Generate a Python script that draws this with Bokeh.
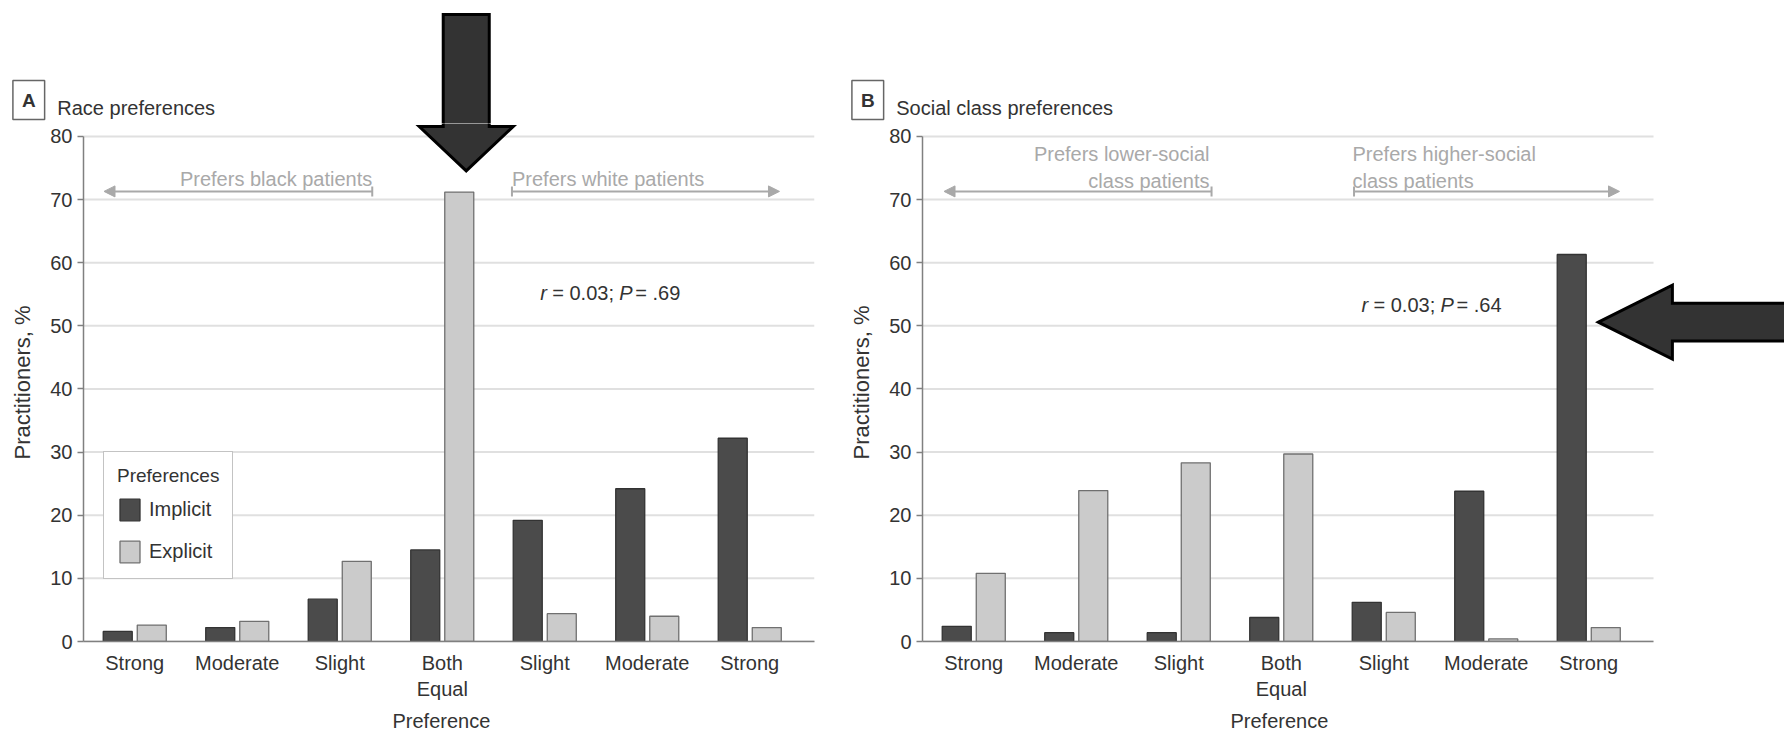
import math
from bokeh.plotting import figure
from bokeh.models import (Range1d, FixedTicker, Label, Arrow, NormalHead, TeeHead,
                          ColumnDataSource, Title)
from bokeh.layouts import row, column
from bokeh.embed import file_html
from bokeh.resources import INLINE

# ---------------- data ----------------
categories = ["Strong", "Moderate", "Slight", "Both\nEqual", "Slight", "Moderate", "Strong"]
y_ticks = [0, 10, 20, 30, 40, 50, 60, 70, 80]
series_names = ["Implicit", "Explicit"]
race_implicit = [1.6, 2.2, 6.7, 14.5, 19.2, 24.2, 32.2]
race_explicit = [2.6, 3.2, 12.7, 71.2, 4.4, 4.0, 2.2]
class_implicit = [2.4, 1.4, 1.4, 3.8, 6.2, 23.8, 61.3]
class_explicit = [10.8, 23.9, 28.3, 29.7, 4.6, 0.4, 2.2]
panel_letters = ["A", "B"]
panel_titles = ["Race preferences", "Social class preferences"]
left_notes = [["Prefers black patients"], ["Prefers lower-social", "class patients"]]
right_notes = [["Prefers white patients"], ["Prefers higher-social", "class patients"]]
stats_r = ["0.03", "0.03"]
stats_p = [".69", ".64"]
x_title = "Preference"
y_title = "Practitioners, %"

# ---------------- styles ----------------
FONT = "Liberation Sans"
FS = "20px"
DARK = "#4b4b4b"
LIGHT = "#cbcbcb"
TXT = "#333333"
NOTE = "#a9a9a9"
AXIS = "#808080"
GRID = "#e0e0e0"
PX_PER_CAT = 102.5      # horizontal pixels per category
PX_PER_UNIT = 6.325     # vertical pixels per percent
X0 = -0.5
X_GRID_END = 6.632
BAR_W = 0.283
BAR_OFF = 0.166
PAGE_W, PAGE_H = 1784, 736
TOP_H = 123             # strip holding the panel titles
ZERO_Y = 642            # pixel row of the zero line
MAIN_H = PAGE_H - TOP_H
MAIN_FRAME_H = ZERO_Y - TOP_H
Y_TOP_MAIN = MAIN_FRAME_H / PX_PER_UNIT
W_A, W_B = 840, 944
LEFT_A, LEFT_B = 83, 82
B_SHIFT = (W_A + LEFT_B - LEFT_A) / PX_PER_CAT   # panel B units -> panel A units


def lab(p, x, y, text, **kw):
    base = dict(text_font=FONT, text_font_size=FS, text_color=TXT)
    base.update(kw)
    p.add_layout(Label(x=x, y=y, text=text, **base))


def make_main(idx, implicit, explicit, width, frame_w, border_left, border_right, legend):
    x_end = X0 + frame_w / PX_PER_CAT
    p = figure(width=width, height=MAIN_H, output_backend="svg", toolbar_location=None,
               x_range=Range1d(X0, x_end), y_range=Range1d(0, Y_TOP_MAIN),
               min_border_left=border_left, min_border_right=border_right,
               min_border_top=0, min_border_bottom=MAIN_H - MAIN_FRAME_H, title=None)
    p.outline_line_color = None
    p.xgrid.visible = False
    p.ygrid.visible = False

    p.segment(x0=[X0] * len(y_ticks), x1=[X_GRID_END] * len(y_ticks), y0=y_ticks, y1=y_ticks,
              line_color=GRID, line_width=2)

    xs = list(range(len(categories)))
    src = ColumnDataSource(dict(xi=[x - BAR_OFF for x in xs], xe=[x + BAR_OFF for x in xs],
                                imp=implicit, exp=explicit))
    kw_i = dict(legend_label=series_names[0]) if legend else {}
    kw_e = dict(legend_label=series_names[1]) if legend else {}
    p.vbar(x="xi", top="imp", bottom=0, width=BAR_W, source=src, fill_color=DARK,
           line_color="#333333", line_width=1.3, **kw_i)
    p.vbar(x="xe", top="exp", bottom=0, width=BAR_W, source=src, fill_color=LIGHT,
           line_color="#707070", line_width=1.3, **kw_e)

    p.xaxis.ticker = FixedTicker(ticks=xs)
    p.xaxis.major_label_overrides = {i: c for i, c in enumerate(categories)}
    p.xaxis.bounds = (X0, X_GRID_END)
    p.xaxis.major_tick_out = 0
    p.xaxis.major_tick_in = 0
    p.xaxis.major_label_standoff = 10
    p.yaxis.ticker = FixedTicker(ticks=y_ticks)
    p.yaxis.bounds = (0, 80)
    p.yaxis.major_tick_out = 6
    p.yaxis.major_tick_in = 0
    p.yaxis.major_label_standoff = 5
    p.yaxis.axis_label = y_title
    p.yaxis.axis_label_standoff = 12
    p.yaxis.axis_label_text_font = FONT
    p.yaxis.axis_label_text_font_size = "22px"
    p.yaxis.axis_label_text_font_style = "normal"
    p.yaxis.axis_label_text_color = TXT
    for ax in (p.xaxis, p.yaxis):
        ax.axis_line_color = AXIS
        ax.axis_line_width = 1.5
        ax.minor_tick_line_color = None
        ax.major_label_text_font = FONT
        ax.major_label_text_font_size = FS
        ax.major_label_text_color = TXT
    p.xaxis.major_tick_line_color = None
    p.yaxis.major_tick_line_color = AXIS
    p.yaxis.major_tick_line_width = 1.5

    # x-axis title, centred under the "Both Equal" group
    p.add_layout(Title(text=x_title, align="left", offset=309 if idx == 0 else 308,
                       text_font=FONT, text_font_size=FS, text_font_style="normal",
                       text_color=TXT, standoff=10), "below")

    # direction notes
    ln, rn = left_notes[idx], right_notes[idx]
    ys = [73.2] if len(ln) == 1 else [77.3, 73.0]
    lx_text = 2.317 if idx == 0 else 2.30
    rx_text = 3.68 if idx == 0 else 3.695
    for t, yy in zip(ln, ys):
        lab(p, lx_text, yy, t, text_align="right", text_baseline="alphabetic", text_color=NOTE)
    for t, yy in zip(rn, ys):
        lab(p, rx_text, yy, t, text_align="left", text_baseline="alphabetic", text_color=NOTE)
    tee_l, tip_l = (2.317, -0.30) if idx == 0 else (2.32, -0.29)
    tee_r, tip_r = (3.68, 6.29) if idx == 0 else (3.71, 6.30)
    for a, b in ((tee_l, tip_l), (tee_r, tip_r)):
        p.add_layout(Arrow(x_start=a, y_start=71.3, x_end=b, y_end=71.3,
                           line_color=NOTE, line_width=2,
                           start=TeeHead(size=10, line_color=NOTE, line_width=2),
                           end=NormalHead(size=11, fill_color=NOTE, line_color=NOTE,
                                          line_width=1)))

    # statistics
    sx, sy = (3.956, 55.18) if idx == 0 else (3.783, 53.28)
    lab(p, sx, sy, "r", text_font_style="italic", text_baseline="alphabetic")
    lab(p, sx, sy, "= " + stats_r[idx] + ";", x_offset=12, text_baseline="alphabetic")
    lab(p, sx, sy, "P", text_font_style="italic", x_offset=79, text_baseline="alphabetic")
    lab(p, sx, sy, "= " + stats_p[idx], x_offset=95, text_baseline="alphabetic")

    if legend:
        lg = p.legend[0]
        lg.title = "Preferences"
        lg.location = (20, 62)
        lg.glyph_width = 25
        lg.glyph_height = 27
        lg.label_height = 27
        lg.spacing = 15
        lg.padding = 13
        lg.margin = 0
        lg.label_standoff = 7
        lg.title_standoff = 9
        lg.border_line_color = "#888888"
        lg.border_line_width = 1.5
        lg.background_fill_alpha = 1
        lg.label_text_font = FONT
        lg.label_text_font_size = FS
        lg.label_text_color = TXT
        lg.title_text_font = FONT
        lg.title_text_font_size = "19px"
        lg.title_text_font_style = "normal"
        lg.title_text_color = TXT
    return p


mainA = make_main(0, race_implicit, race_explicit, W_A, 731, LEFT_A, 26, True)
mainB = make_main(1, class_implicit, class_explicit, W_B, W_B - LEFT_B, LEFT_B, 0, False)

# title strip across the full width (x in panel A units)
x_start_top = X0 - LEFT_A / PX_PER_CAT
top = figure(width=PAGE_W, height=TOP_H, output_backend="svg", toolbar_location=None,
             x_range=Range1d(x_start_top, x_start_top + PAGE_W / PX_PER_CAT),
             y_range=Range1d(Y_TOP_MAIN, Y_TOP_MAIN + TOP_H / PX_PER_UNIT),
             x_axis_type=None, y_axis_type=None, min_border=0, title=None)
top.outline_line_color = None
for i, shift in enumerate((0.0, B_SHIFT)):
    lab(top, -1.034 + shift, 85.77, panel_letters[i], text_font_style="bold",
        text_align="center", text_baseline="middle", text_font_size="19px",
        border_line_color="#666666", border_line_width=1.5, background_fill_color="white",
        padding=9)
    lab(top, -0.756 + shift, 84.43, panel_titles[i], text_baseline="alphabetic")

# emphasis arrows (annotation shapes, in each panel's data units)
# A: downward arrow pointing at the "Both Equal" explicit bar (spans title strip and plot)
a_tip_x, a_tip_y, a_head_half, a_shaft_half, a_head_len, a_top = 3.234, 74.55, 0.4585, 0.2245, 7.03, 99.3
for fig in (top, mainA):
    fig.patch([a_tip_x, a_tip_x + a_head_half, a_tip_x + a_shaft_half, a_tip_x + a_shaft_half,
               a_tip_x - a_shaft_half, a_tip_x - a_shaft_half, a_tip_x - a_head_half],
              [a_tip_y, a_tip_y + a_head_len, a_tip_y + a_head_len, a_top, a_top,
               a_tip_y + a_head_len, a_tip_y + a_head_len],
              fill_color="#333333", line_color="black", line_width=3, line_join="miter")
# B: leftward arrow pointing at the "Strong" implicit bar
b_tip_x, b_tip_y, b_head_len, b_head_half, b_shaft_half, b_end = 6.094, 50.59, 0.722, 5.85, 3.0, 8.6
mainB.patch([b_tip_x, b_tip_x + b_head_len, b_tip_x + b_head_len, b_end, b_end,
             b_tip_x + b_head_len, b_tip_x + b_head_len],
            [b_tip_y, b_tip_y + b_head_half, b_tip_y + b_shaft_half, b_tip_y + b_shaft_half,
             b_tip_y - b_shaft_half, b_tip_y - b_shaft_half, b_tip_y - b_head_half],
            fill_color="#333333", line_color="black", line_width=3, line_join="miter")

layout = column(top, row(mainA, mainB))
open("out.html", "w").write(file_html(layout, INLINE))
